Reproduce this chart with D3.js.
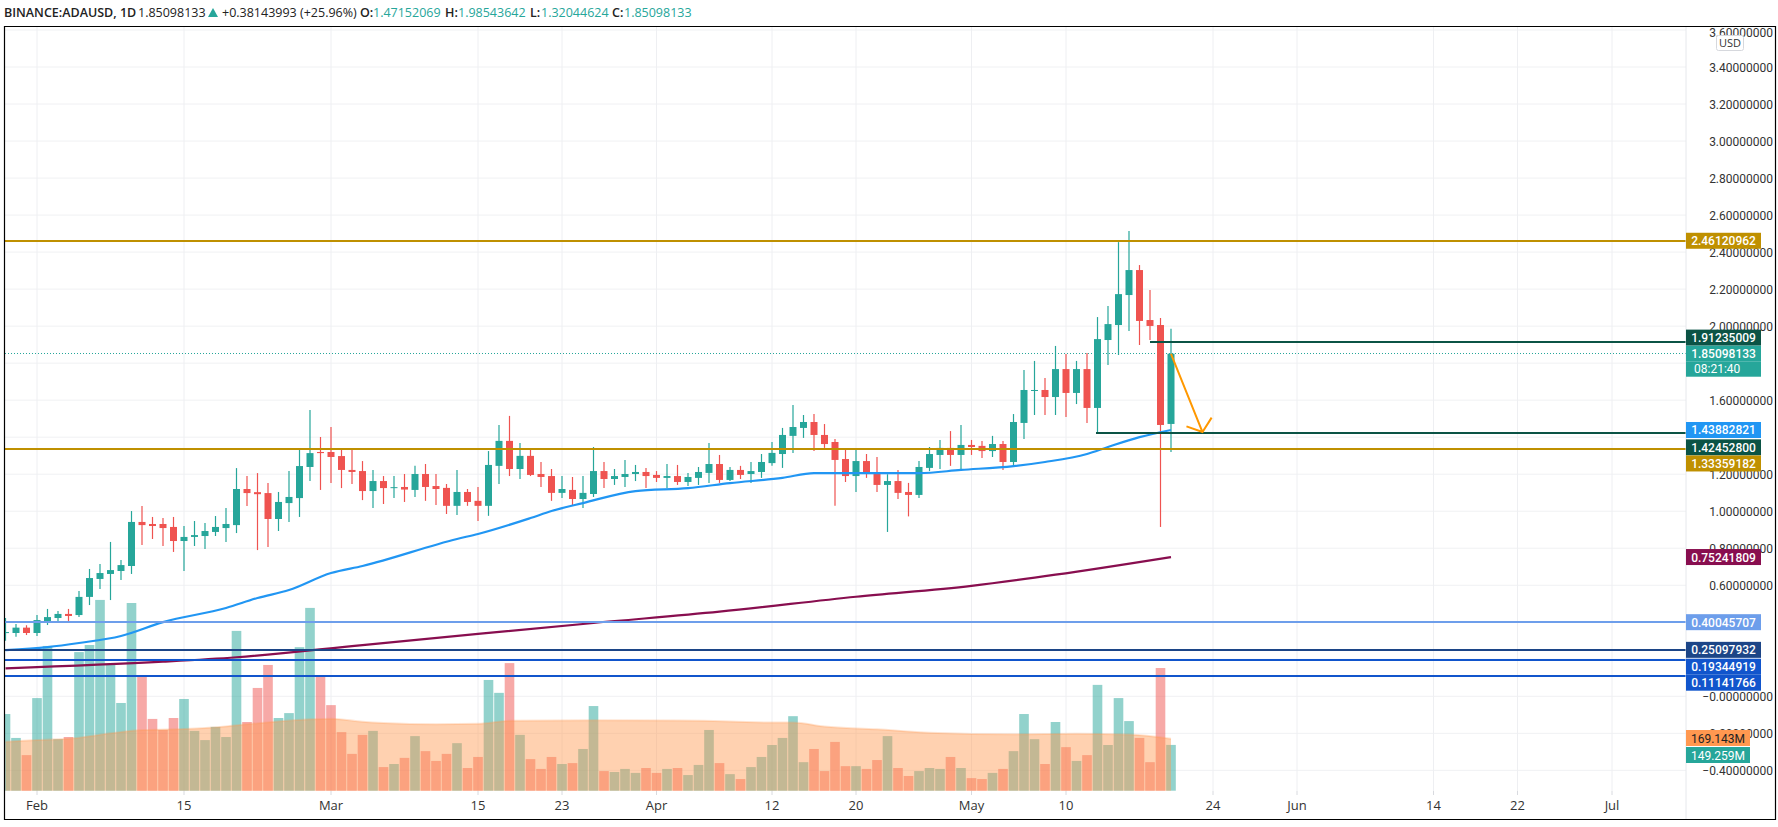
<!DOCTYPE html>
<html><head><meta charset="utf-8">
<script src="https://cdn.jsdelivr.net/npm/d3@7/dist/d3.min.js"></script>
<style>html,body{margin:0;padding:0;background:#fff;overflow:hidden}svg{display:block}text{font-family:"Open Sans",sans-serif}</style>
</head><body><svg id="c" width="1778" height="827"></svg>
<script>
const firstDay=-3;
const opens=[.345,.342,.371,.342,.407,.423,.445,.439,.537,.634,.661,.677,.704,.942,.931,.931,.915,.839,.861,.866,.888,.909,.925,1.12,1.103,1.098,.958,1.044,1.071,1.239,1.32,1.32,1.298,1.223,1.217,1.109,1.163,1.125,
1.131,1.115,1.201,1.136,1.126,1.029,1.104,1.056,1.029,1.245,1.38,1.228,1.299,1.201,1.19,1.099,1.115,1.066,1.093,1.217,1.174,1.185,1.201,1.212,1.196,1.18,1.19,1.158,1.18,1.207,1.255,1.169,1.223,1.201,1.212,1.26,1.309,1.407,1.45,1.482,1.412,1.374,1.282,1.19,1.271,1.207,1.142,1.163,1.104,1.088,1.234,1.304,1.342,1.304,1.358,1.353,1.325,1.363,1.266,1.477,1.65,1.655,1.617,1.768,1.639,1.768,1.558,1.925,2.006,2.168,2.303,2.033,2.006,1.4715];
const closes=[.347,.371,.342,.412,.428,.445,.434,.537,.639,.666,.682,.709,.942,.925,.92,.909,.839,.861,.871,.893,.915,.931,1.12,1.098,1.092,.958,1.05,1.077,1.244,1.314,1.314,1.293,1.223,1.212,1.109,1.163,1.125,1.13,
1.117,1.201,1.131,1.12,1.029,1.104,1.05,1.029,1.25,1.38,1.228,1.299,1.196,1.185,1.099,1.12,1.066,1.099,1.217,1.174,1.19,1.201,1.212,1.19,1.18,1.19,1.158,1.185,1.212,1.255,1.169,1.223,1.196,1.217,1.266,1.315,1.412,1.455,1.482,1.412,1.363,1.277,1.19,1.271,1.201,1.142,1.163,1.099,1.088,1.239,1.309,1.342,1.304,1.358,1.347,1.325,1.363,1.266,1.482,1.655,1.655,1.617,1.768,1.639,1.768,1.558,1.93,2.011,2.173,2.303,2.028,2.001,1.466,1.85098];
const highs=[.423,.391,.384,.439,.472,.461,.472,.569,.688,.715,.834,.736,1.001,1.028,.969,.963,.969,.92,.947,.936,.974,1.017,1.233,1.19,1.206,1.152,1.104,1.217,1.331,1.547,1.401,1.455,1.331,1.331,1.271,1.223,1.19,1.19,
1.201,1.245,1.255,1.201,1.147,1.223,1.12,1.131,1.325,1.466,1.515,1.369,1.336,1.266,1.228,1.19,1.185,1.19,1.347,1.266,1.228,1.277,1.25,1.234,1.217,1.255,1.25,1.207,1.239,1.369,1.304,1.239,1.245,1.266,1.309,1.374,1.45,1.574,1.52,1.525,1.471,1.39,1.331,1.336,1.309,1.293,1.2,1.223,1.153,1.271,1.347,1.385,1.433,1.466,1.385,1.38,1.407,1.38,1.525,1.763,1.812,1.72,1.893,1.849,1.812,1.855,2.049,2.109,2.454,2.514,2.33,2.195,2.044,1.98544];
const lows=[.30,.322,.331,.326,.385,.407,.407,.428,.493,.58,.52,.628,.661,.817,.85,.812,.78,.677,.812,.796,.866,.834,.882,1.028,.79,.807,.893,.942,.969,1.163,1.115,1.152,1.125,1.147,1.06,1.017,1.039,1.071,
1.05,1.077,1.056,1.034,.985,.98,1.029,.947,.975,1.147,1.19,1.174,1.19,1.131,1.056,1.072,1.029,1.018,1.077,1.126,1.142,1.131,1.163,1.126,1.158,1.126,1.142,1.136,1.142,1.153,1.153,1.163,1.174,1.153,1.18,1.245,1.234,1.315,1.396,1.325,1.342,1.029,1.158,1.104,1.18,1.104,.888,1.066,.972,1.072,1.217,1.228,1.245,1.228,1.304,1.288,1.293,1.223,1.25,1.39,1.52,1.52,1.52,1.509,1.579,1.477,1.428,1.79,1.844,1.974,1.898,1.925,.915,1.32045];
const volumes=[250,172,116,302,472,168,175,452,475,622,413,286,612,377,234,198,237,299,195,165,208,175,521,224,335,410,237,253,468,596,371,279,191,120,182,195,77,87,107,178,129,97,120,155,74,110,361,319,416,182,103,71,110,87,90,136,276,64,61,71,58,74,58,71,74,51,84,198,90,54,38,77,110,149,172,243,93,136,64,159,80,80,71,100,178,74,48,64,74,71,110,74,41,38,58,71,129,250,168,87,224,142,97,116,345,149,302,227,172,93,400,149.259];
const volMaDays=[-3,0,4,7,10,13,17,21,26,28,31,33,38,42,45,53,61,66,70,72,75,80,85,93,99,104,108];
const volMa=[160,165,173,187,198,200,207,220,233,235,225,221,217,218,228,230,229,226,222,222,209,200,189,184,186,183,169.143];
const emaFastDays=[-3,1,4,8,12,18,21,24,28,31,40,42,47,49,52,57,62,66,71,74,78,84,88,93,96,100,102,105,108];
const emaFast=[.25,.266,.288,.326,.401,.477,.531,.574,.666,.704,.85,.877,.963,1.001,1.044,1.109,1.125,1.152,1.18,1.206,1.206,1.206,1.223,1.244,1.266,1.309,1.347,1.40,1.43882821];
const emaSlowDays=[-3,12,19,31,42,53,65,78,89,97,108];
const emaSlow=[.151,.187,.211,.277,.337,.396,.457,.538,.597,.657,.75241809];
const priceTicks=[3.6,3.4,3.2,3,2.8,2.6,2.4,2.2,2,1.8,1.6,1.4,1.2,1,.8,.6,.4,.2,0,-.2,-.4];
const shownTickLabels=["3.60000000","3.40000000","3.20000000","3.00000000","2.80000000","2.60000000","2.40000000","2.20000000","2.00000000","","1.60000000","","1.20000000","1.00000000","0.80000000","0.60000000","","","\u22120.00000000","\u22120.20000000","\u22120.40000000"];
const timeTickDays=[0,14,28,42,50,59,70,78,89,98,112,120,133,141,150];
const timeTickLabels=["Feb","15","Mar","15","23","Apr","12","20","May","10","24","Jun","14","22","Jul"];
const fullLevels=[2.46120962,1.33359182,.40045707,.25097932,.19344919,.11141766];
const fullLevelColors=["#bf9000","#bf9000","#6d9eeb","#1c4587","#1155cc","#1155cc"];
const partLevels=[1.91235009,1.424528];
const partLevelStartDays=[106,100.9];
const lastPrice=1.85098133;
const arrowDays=[108,111];
const arrowPrices=[1.85,1.428];
const labelTexts=["2.46120962","1.91235009","1.85098133","1.43882821","1.42452800","1.33359182","0.75241809","0.40045707","0.25097932","0.19344919","0.11141766"];
const labelPrices=[2.46120962,1.938,1.85098133,1.43882821,1.345,1.258,.75241809,.40045707,.25097932,.16,.0735];
const labelColors=["#bf9000","#0b5345","#26a69a","#2196f3","#0b5345","#bf9000","#880e4f","#6d9eeb","#1c4587","#1155cc","#1155cc"];

const W=1778,H=827,L=5,T=26,R=1686,B=791;
const svg=d3.select("#c");
const x=d3.scaleLinear().domain([0,150]).range([37,1612]);
const y=d3.scaleLinear().domain([0,3.6]).range([696.3,30]);
const yv=d3.scaleLinear().domain([0,1000]).range([790.7,484]);
const defs=svg.append("defs");
defs.append("clipPath").attr("id","p").append("rect").attr("x",L).attr("y",T).attr("width",R-L).attr("height",B-T);
defs.append("clipPath").attr("id","ax").append("rect").attr("x",R).attr("y",T).attr("width",W-R-3).attr("height",B-T);

const days=opens.map((_,i)=>i+firstDay);
const plot=svg.append("g").attr("clip-path","url(#p)");
plot.append("g").selectAll("line").data(priceTicks).join("line").attr("x1",L).attr("x2",R).attr("y1",d=>y(d)).attr("y2",d=>y(d)).attr("stroke","#f0f1f3").attr("stroke-width",1);
plot.append("g").selectAll("line").data(timeTickDays).join("line").attr("x1",d=>x(d)).attr("x2",d=>x(d)).attr("y1",T).attr("y2",B).attr("stroke","#eeeff2").attr("stroke-width",1);
plot.append("g").selectAll("rect").data(days).join("rect")
 .attr("x",(d)=>x(d)-4.8).attr("width",9.6).attr("y",(d,i)=>yv(volumes[i])).attr("height",(d,i)=>yv(0)-yv(volumes[i]))
 .attr("fill",(d,i)=>closes[i]>=opens[i]?"#26a69a":"#ef5350").attr("opacity",.5);
const area=d3.area().x((d,i)=>x(volMaDays[i])).y0(yv(0)).y1(d=>yv(d)).curve(d3.curveMonotoneX);
plot.append("path").datum(volMa).attr("d",area).attr("fill","#ff9850").attr("fill-opacity",.45);
plot.append("path").datum(volMa).attr("d",d3.line().x((d,i)=>x(volMaDays[i])).y(d=>yv(d)).curve(d3.curveMonotoneX)).attr("fill","none").attr("stroke","#ff9850").attr("stroke-opacity",.25).attr("stroke-width",2);
plot.append("line").attr("x1",L).attr("x2",R).attr("y1",y(lastPrice)).attr("y2",y(lastPrice)).attr("stroke","#26a69a").attr("stroke-width",1).attr("stroke-dasharray","1 2").attr("shape-rendering","crispEdges");
const col=i=>closes[i]>=opens[i]?"#26a69a":"#ef5350";
plot.append("g").selectAll("line").data(days).join("line").attr("x1",d=>x(d)).attr("x2",d=>x(d)).attr("y1",(d,i)=>y(highs[i])).attr("y2",(d,i)=>y(lows[i])).attr("stroke",(d,i)=>col(i)).attr("stroke-width",1.2);
plot.append("g").selectAll("rect").data(days).join("rect").attr("x",d=>x(d)-3.5).attr("width",7)
 .attr("y",(d,i)=>y(Math.max(opens[i],closes[i]))).attr("height",(d,i)=>Math.max(1,Math.abs(y(opens[i])-y(closes[i])))).attr("fill",(d,i)=>col(i));
plot.append("path").datum(emaSlow).attr("d",d3.line().x((d,i)=>x(emaSlowDays[i])).y(d=>y(d)).curve(d3.curveMonotoneX)).attr("fill","none").attr("stroke","#880e4f").attr("stroke-width",2.2);
plot.append("path").datum(emaFast).attr("d",d3.line().x((d,i)=>x(emaFastDays[i])).y(d=>y(d)).curve(d3.curveMonotoneX)).attr("fill","none").attr("stroke","#2196f3").attr("stroke-width",2.2);
plot.append("g").selectAll("line").data(fullLevels).join("line").attr("x1",L).attr("x2",R).attr("y1",d=>y(d)).attr("y2",d=>y(d)).attr("stroke",(d,i)=>fullLevelColors[i]).attr("stroke-width",2).attr("shape-rendering","crispEdges");
plot.append("g").selectAll("line").data(partLevels).join("line").attr("x1",(d,i)=>x(partLevelStartDays[i])).attr("x2",R).attr("y1",d=>y(d)).attr("y2",d=>y(d)).attr("stroke","#0b5345").attr("stroke-width",2).attr("shape-rendering","crispEdges");
const ax0=x(arrowDays[0]),ay0=y(arrowPrices[0]),ax1=x(arrowDays[1]),ay1=y(arrowPrices[1]);
const ang=Math.atan2(ay1-ay0,ax1-ax0);
const arm=a=>[ax1-17*Math.cos(ang+a),ay1-17*Math.sin(ang+a)];
const a1=arm(.95),a2=arm(-.85);
plot.append("path").attr("d",d3.line()([[ax0,ay0],[ax1,ay1]])+d3.line()([a1,[ax1,ay1],a2])).attr("fill","none").attr("stroke","#ff9800").attr("stroke-width",2);
svg.append("line").attr("x1",R).attr("x2",R).attr("y1",T).attr("y2",B+28).attr("stroke","#e6e8ec");
svg.append("path").attr("d",`M4.5 819.5V26.5H1775.5V819.5Z`).attr("fill","none").attr("stroke","#000").attr("stroke-width",1.2);
// price axis labels: ones hidden behind value labels in the reference stay empty
const axis=svg.append("g").attr("clip-path","url(#ax)");
axis.selectAll("text").data(priceTicks).join("text").attr("x",1773).attr("y",(d,i)=>y(d)+4.5+(i===0?2:0)).attr("text-anchor","end")
 .attr("font-family","Roboto").style("font-family","Roboto").attr("font-size",12).attr("fill","#333").text((d,i)=>shownTickLabels[i]);
svg.append("rect").attr("x",1716.5).attr("y",35.5).attr("width",27).attr("height",15).attr("rx",2).attr("fill","#fff").attr("stroke","#d6d8dd");
svg.append("text").attr("x",1730).attr("y",47).attr("text-anchor","middle").attr("font-size",11).attr("fill","#333").text("USD");
const lab=svg.append("g");
labelTexts.forEach((t,i)=>{
 const cy=y(labelPrices[i]);
 lab.append("rect").attr("x",R).attr("width",75).attr("y",cy-8).attr("height",16).attr("fill",labelColors[i]);
 lab.append("text").attr("x",1723.5).attr("y",cy+4.5).attr("text-anchor","middle").style("font-family","Roboto").attr("font-size",12).attr("font-weight",500).attr("fill","#fff").text(t);
});
const cd=y(lastPrice)+8;
lab.append("rect").attr("x",R).attr("width",75).attr("y",cd).attr("height",15).attr("fill","#26a69a");
lab.append("text").attr("x",1694).attr("y",cd+11).style("font-family","Roboto").attr("font-size",12).attr("fill","#fff").text("08:21:40");
const vLabels=[["169.143M","#ff9850",738,"#222"],["149.259M","#26a69a",755,"#fff"]];
vLabels.forEach(v=>{
 lab.append("rect").attr("x",R).attr("width",64).attr("y",v[2]-8).attr("height",16).attr("fill",v[1]);
 lab.append("text").attr("x",1718).attr("y",v[2]+4.5).attr("text-anchor","middle").style("font-family","Roboto").attr("font-size",12).attr("fill",v[3]).text(v[0]);
});
svg.append("g").selectAll("text").data(timeTickDays).join("text").attr("x",d=>x(d)).attr("y",810).attr("text-anchor","middle").attr("font-size",13).attr("fill","#333").text((d,i)=>timeTickLabels[i]);
svg.append("g").selectAll("line").data(timeTickDays).join("line").attr("x1",d=>x(d)).attr("x2",d=>x(d)).attr("y1",B).attr("y2",B+4).attr("stroke","#d8dadf");
const tg="#26a69a",dk="#222";
const legend=[["BINANCE:ADAUSD, 1D",4,dk,600],["1.85098133",138,dk,400],["+0.38143993 (+25.96%)",222,dk,400],["O:",360,dk,600],["1.47152069",373,tg,400],["H:",445,dk,600],["1.98543642",458,tg,400],["L:",530,dk,600],["1.32044624",541,tg,400],["C:",612,dk,600],["1.85098133",624,tg,400]];
svg.append("g").selectAll("text").data(legend).join("text").attr("x",d=>d[1]).attr("y",17).attr("font-size",12.5).attr("font-weight",d=>d[3]).attr("fill",d=>d[2]).text(d=>d[0]);
svg.append("path").attr("d","M208 17L213 8L218 17Z").attr("fill",tg);
</script></body></html>
